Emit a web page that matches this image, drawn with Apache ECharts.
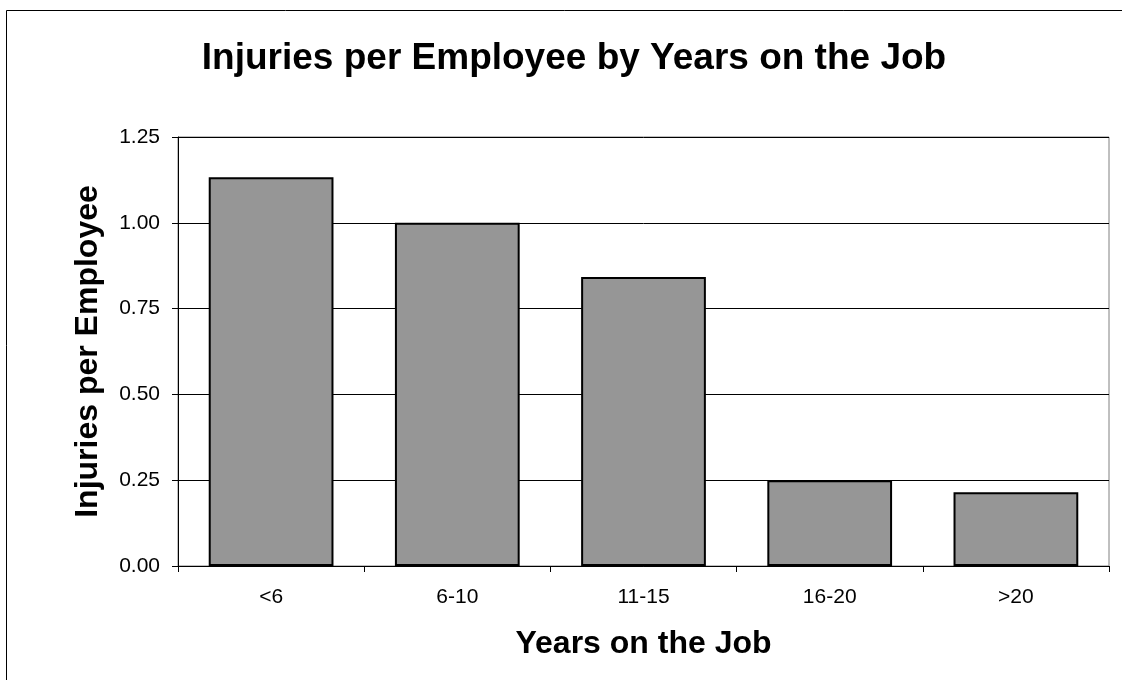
<!DOCTYPE html>
<html><head><meta charset="utf-8">
<script src="https://cdn.jsdelivr.net/npm/echarts@6/dist/echarts.min.js"></script>
<style>html,body{margin:0;padding:0;background:#fff}#c{width:1122px;height:680px}</style>
</head><body><div id="c"></div>
<script>
const categories = ['<6', '6-10', '11-15', '16-20', '>20'];
const injuries = [1.133, 1.00, 0.842, 0.25, 0.215];
const yTicks = [0, 0.25, 0.5, 0.75, 1.0, 1.25];

const chart = echarts.init(document.getElementById('c'), null, {renderer: 'canvas'});
const font = 'Arial, "Liberation Sans", sans-serif';
chart.setOption({
  animation: false,
  backgroundColor: '#fff',
  title: {
    text: 'Injuries per Employee by Years on the Job',
    left: 569, top: 35, textAlign: 'center',
    textStyle: {fontFamily: font, fontSize: 37, fontWeight: 'bold', color: '#000'}
  },
  graphic: [{
    type: 'rect', shape: {x: 6.5, y: 10.5, width: 1130, height: 690},
    style: {fill: 'none', stroke: '#000', lineWidth: 1}, silent: true, z: -1
  }],
  grid: {left: 178, right: 13, top: 137, bottom: 114, show: true, borderColor: '#808080', borderWidth: 1},
  xAxis: {
    type: 'category', data: categories,
    name: 'Years on the Job', nameLocation: 'middle', nameGap: 62,
    nameTextStyle: {fontFamily: font, fontSize: 32, fontWeight: 'bold', color: '#000'},
    axisLine: {show: true, lineStyle: {color: '#000', width: 1}},
    axisTick: {show: true, length: 6, inside: false, lineStyle: {color: '#000'}},
    axisLabel: {fontFamily: font, fontSize: 21, color: '#000', margin: 21}
  },
  yAxis: {
    type: 'value', min: 0, max: 1.25, interval: 0.25,
    name: 'Injuries per Employee', nameLocation: 'middle', nameGap: 74,
    nameTextStyle: {fontFamily: font, fontSize: 32, fontWeight: 'bold', color: '#000'},
    axisLine: {show: true, lineStyle: {color: '#000', width: 1}},
    axisTick: {show: true, length: 6, lineStyle: {color: '#000'}},
    splitLine: {show: true, lineStyle: {color: '#000', width: 1}},
    axisLabel: {fontFamily: font, fontSize: 21, color: '#000', margin: 18,
      formatter: v => v.toFixed(2)}
  },
  series: [{
    type: 'bar', data: injuries, barCategoryGap: '33%',
    itemStyle: {color: '#969696', borderColor: '#000', borderWidth: 2}
  }]
});
</script></body></html>
